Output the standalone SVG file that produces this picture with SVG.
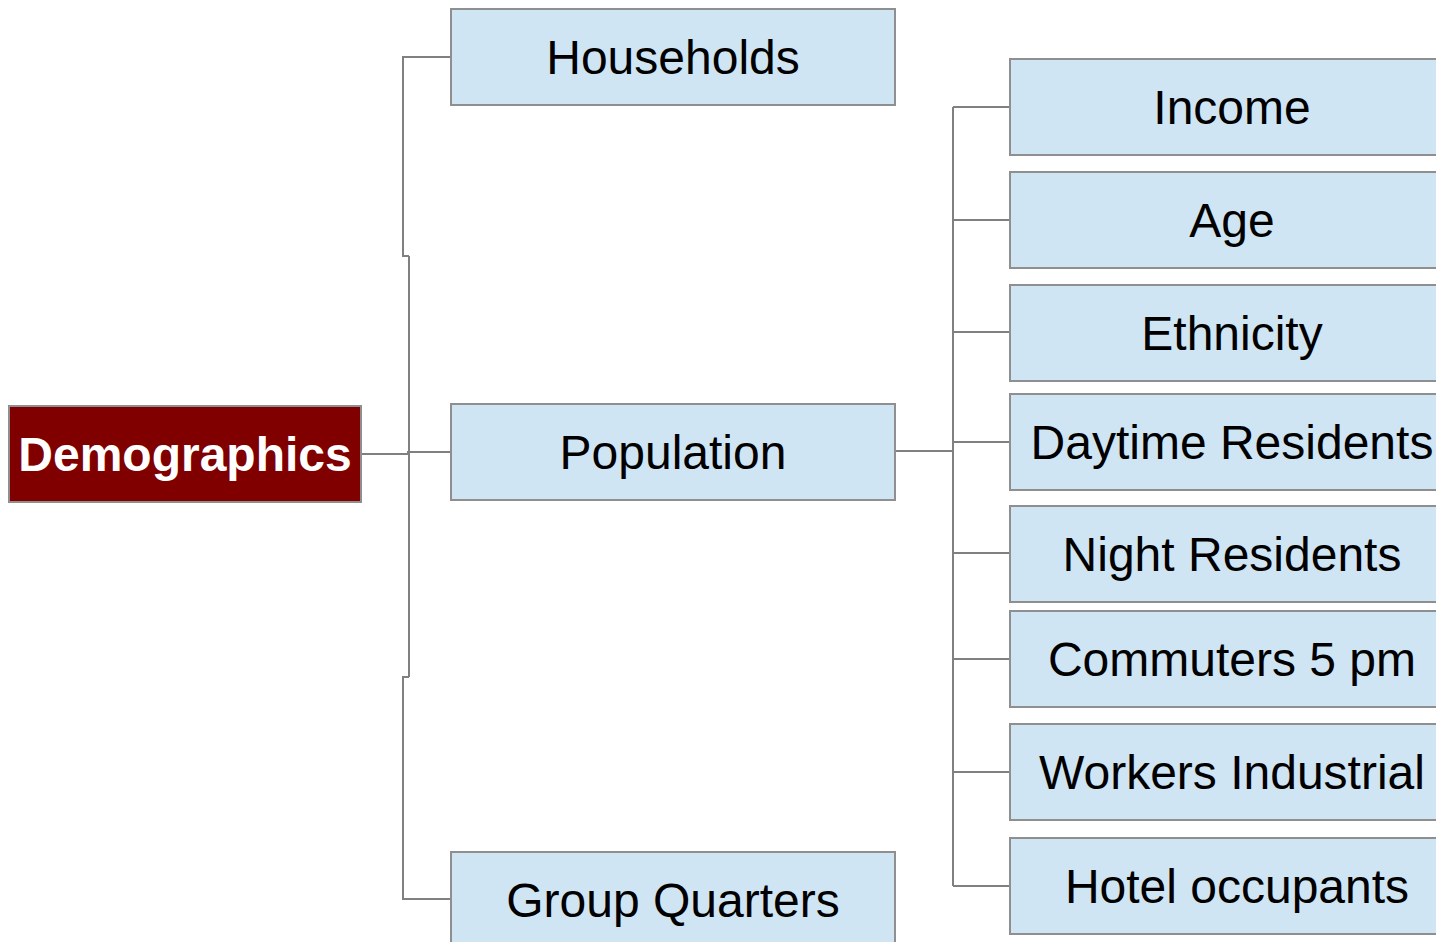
<svg xmlns="http://www.w3.org/2000/svg" width="1436" height="942" viewBox="0 0 1436 942">
<style>
.n{fill:#cfe5f3;stroke:#8f8f8f;stroke-width:2}
.t{font-family:"Liberation Sans",Arial,sans-serif;font-size:48px;fill:#000;text-anchor:middle;dominant-baseline:central}
.c{fill:none;stroke:#808080;stroke-width:2}
</style>
<rect width="1436" height="942" fill="#fff"/>
<g id="connectors">
<path class="c" d="M361 454 H408 M407 452 H451"/>
<path class="c" d="M409 256 V677"/>
<path class="c" d="M409 256 H403 V57 H451"/>
<path class="c" d="M409 677 H403 V899 H451"/>
<path class="c" d="M895 451 H953" stroke-width="3"/>
<path class="c" d="M953 107 V886"/>
<path class="c" d="M953 107 H1010 M953 220 H1010 M953 332 H1010 M953 442 H1010 M953 553 H1010 M953 659 H1010 M953 772 H1010 M953 886 H1010"/>
</g>
<g id="demographics">
<rect x="9" y="406" width="352" height="96" fill="#800000" stroke="#8f8f8f" stroke-width="2"/>
<text x="185" y="454" class="t" style="fill:#fff;font-weight:bold">Demographics</text>
</g>
<g id="households"><rect class="n" x="451" y="9" width="444" height="96"/><text class="t" x="673" y="57">Households</text></g>
<g id="population"><rect class="n" x="451" y="404" width="444" height="96"/><text class="t" x="673" y="452">Population</text></g>
<g id="groupquarters"><rect class="n" x="451" y="852" width="444" height="96"/><text class="t" x="673" y="900">Group Quarters</text></g>
<g id="income"><rect class="n" x="1010" y="59" width="444" height="96"/><text class="t" x="1232" y="107">Income</text></g>
<g id="age"><rect class="n" x="1010" y="172" width="444" height="96"/><text class="t" x="1232" y="220">Age</text></g>
<g id="ethnicity"><rect class="n" x="1010" y="285" width="444" height="96"/><text class="t" x="1232" y="333">Ethnicity</text></g>
<g id="daytime"><rect class="n" x="1010" y="394" width="444" height="96"/><text class="t" x="1232" y="442">Daytime Residents</text></g>
<g id="night"><rect class="n" x="1010" y="506" width="444" height="96"/><text class="t" x="1232" y="554">Night Residents</text></g>
<g id="commuters"><rect class="n" x="1010" y="611" width="444" height="96"/><text class="t" x="1232" y="659">Commuters 5 pm</text></g>
<g id="workers"><rect class="n" x="1010" y="724" width="444" height="96"/><text class="t" x="1232" y="772">Workers Industrial</text></g>
<g id="hotel"><rect class="n" x="1010" y="838" width="444" height="96"/><text class="t" x="1237" y="886">Hotel occupants</text></g>
</svg>
